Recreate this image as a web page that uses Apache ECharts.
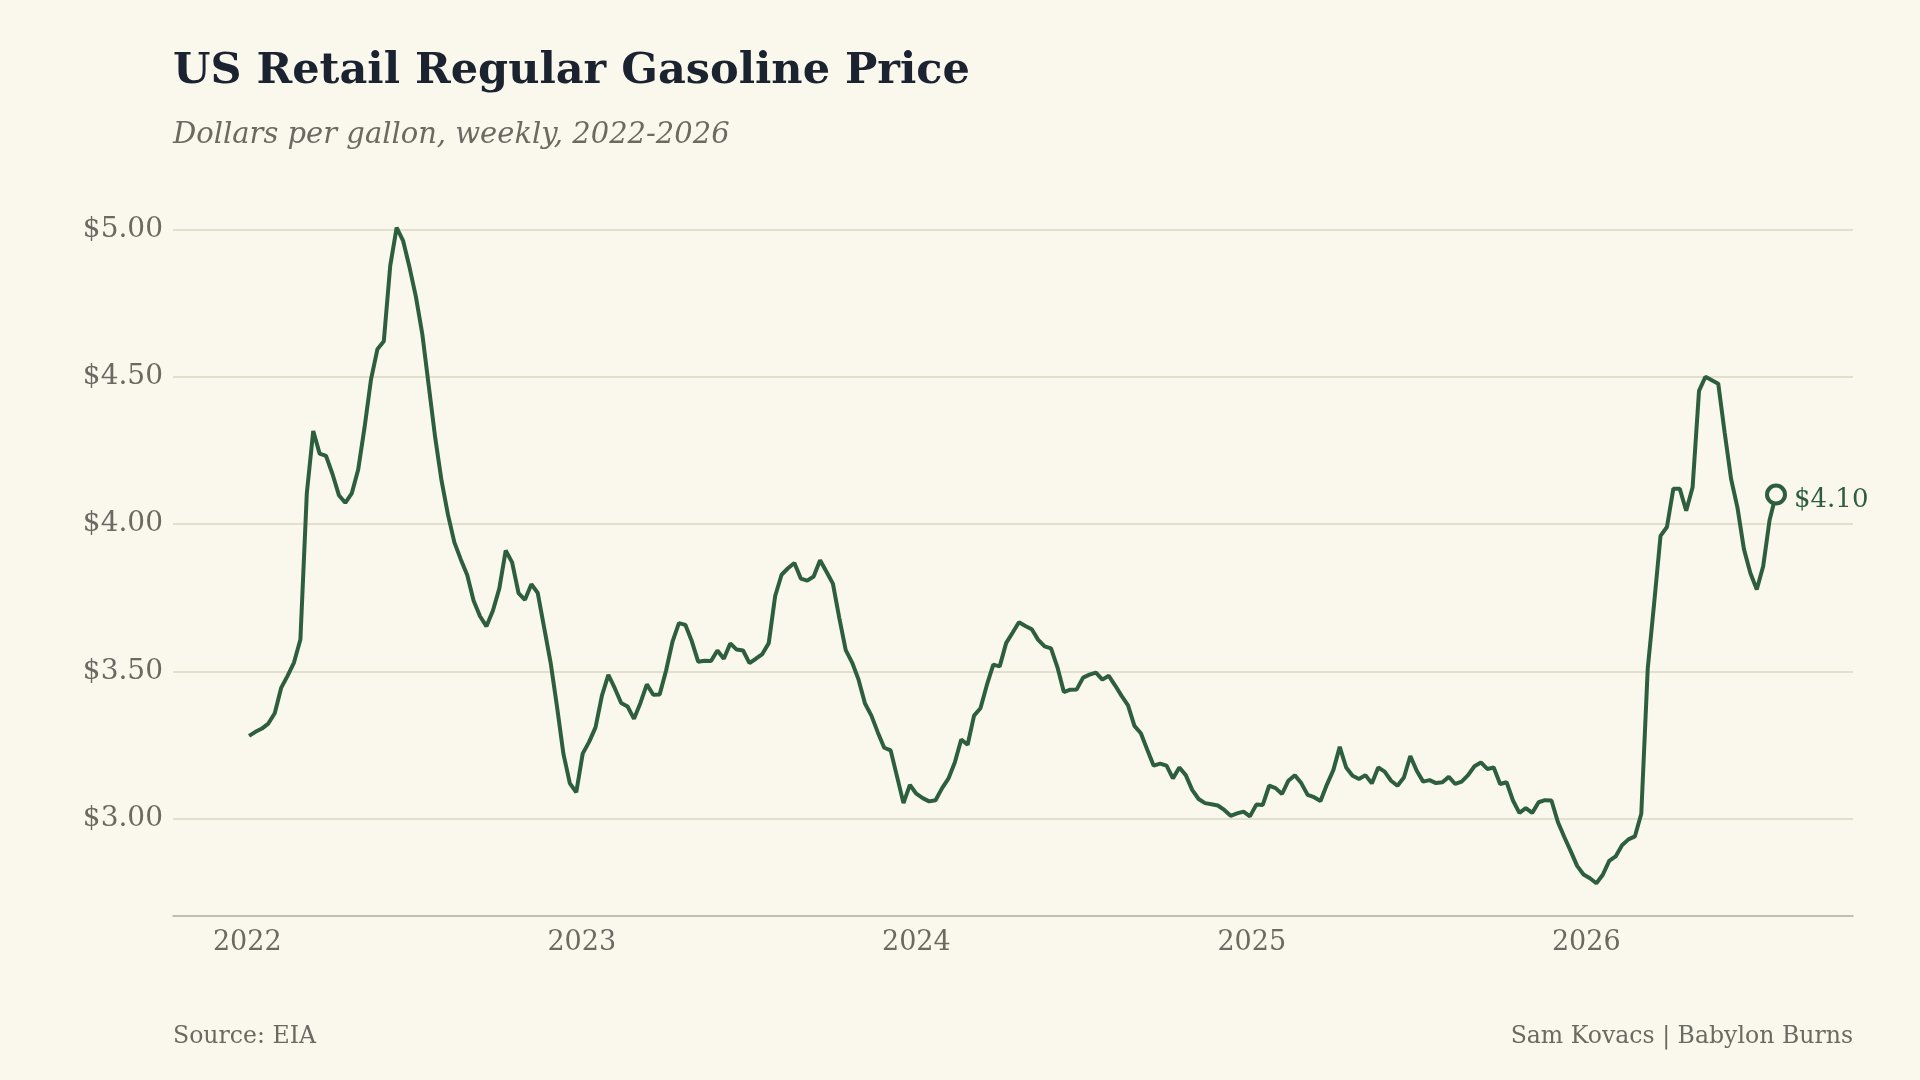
<!DOCTYPE html>
<html>
<head>
<meta charset="utf-8">
<title>US Retail Regular Gasoline Price</title>
<script src="https://cdn.jsdelivr.net/npm/echarts@6/dist/echarts.min.js"></script>
<style>
    html, body { margin: 0; padding: 0; background: #faf8ed; }
    #chart { width: 1920px; height: 1080px; }
</style>
</head>
<body>
<div id="chart"></div>
<script>
// weekly readings, first one is Monday 3 Jan 2022, one value per week after that
var firstWeek = Date.UTC(2022, 0, 3);

var prices2022 = [3.281, 3.295, 3.306, 3.323, 3.358, 3.444, 3.485, 3.530, 3.608, 4.104,
    4.316, 4.239, 4.231, 4.170, 4.098, 4.072, 4.104, 4.184, 4.328, 4.490,
    4.593, 4.620, 4.876, 5.006, 4.962, 4.872, 4.772, 4.645, 4.470, 4.295,
    4.147, 4.032, 3.938, 3.880, 3.827, 3.740, 3.687, 3.653, 3.706, 3.781,
    3.910, 3.870, 3.766, 3.743, 3.796, 3.766, 3.648, 3.530, 3.380, 3.220,
    3.120, 3.090];
var prices2023 = [3.221, 3.261, 3.310, 3.418, 3.488, 3.443, 3.393, 3.381, 3.339, 3.393,
    3.456, 3.421, 3.422, 3.503, 3.601, 3.664, 3.658, 3.603, 3.533, 3.536,
    3.535, 3.571, 3.543, 3.595, 3.574, 3.571, 3.528, 3.543, 3.559, 3.596,
    3.756, 3.828, 3.850, 3.868, 3.815, 3.808, 3.822, 3.877, 3.838, 3.798,
    3.681, 3.572, 3.530, 3.472, 3.391, 3.350, 3.293, 3.241, 3.232, 3.143,
    3.053, 3.115];
var prices2024 = [3.085, 3.070, 3.059, 3.063, 3.103, 3.136, 3.191, 3.269, 3.251, 3.350,
    3.375, 3.454, 3.523, 3.517, 3.596, 3.631, 3.667, 3.654, 3.643, 3.607,
    3.585, 3.578, 3.514, 3.430, 3.438, 3.439, 3.479, 3.489, 3.496, 3.472,
    3.485, 3.452, 3.417, 3.385, 3.315, 3.290, 3.234, 3.180, 3.187, 3.180,
    3.137, 3.174, 3.148, 3.098, 3.067, 3.053, 3.049, 3.045, 3.030, 3.010,
    3.018, 3.024, 3.008];
var prices2025 = [3.048, 3.047, 3.112, 3.104, 3.084, 3.129, 3.148, 3.121, 3.081, 3.073,
    3.060, 3.116, 3.165, 3.244, 3.174, 3.146, 3.135, 3.148, 3.120, 3.174,
    3.160, 3.129, 3.112, 3.140, 3.213, 3.163, 3.126, 3.131, 3.121, 3.124,
    3.142, 3.118, 3.126, 3.148, 3.178, 3.191, 3.169, 3.174, 3.118, 3.124,
    3.062, 3.020, 3.036, 3.020, 3.056, 3.063, 3.062, 2.989, 2.938, 2.890,
    2.840, 2.811];
var prices2026 = [2.798, 2.781, 2.810, 2.857, 2.872, 2.910, 2.930, 2.940, 3.017, 3.508,
    3.730, 3.960, 3.990, 4.120, 4.120, 4.045, 4.125, 4.452, 4.500, 4.488,
    4.476, 4.310, 4.153, 4.055, 3.915, 3.834, 3.778, 3.857, 4.014, 4.100];

var priceTicks = [3.0, 3.5, 4.0, 4.5, 5.0];

var titleText = 'US Retail Regular Gasoline Price';
var subtitleText = 'Dollars per gallon, weekly, 2022-2026';
var sourceText = 'Source: EIA';
var creditText = 'Sam Kovacs | Babylon Burns';

var green = '#2d5e3e';
var grey = '#6b6a62';
var bg = '#faf8ed';
var serif = '"DejaVu Serif", serif';

var allPrices = prices2022.concat(prices2023, prices2024, prices2025, prices2026);
var weekMs = 7 * 24 * 3600 * 1000;
var lineData = allPrices.map(function (p, i) {
    return [firstWeek + i * weekMs, p];
});
var lastPoint = lineData[lineData.length - 1];

var myChart = echarts.init(document.getElementById('chart'), null, { renderer: 'canvas' });
myChart.setOption({
    backgroundColor: bg,
    animation: false,
    title: [
        {
            text: titleText, left: 173, top: 50, padding: 0,
            textStyle: { fontFamily: serif, fontSize: 43, fontWeight: 'bold', color: '#1b2330' }
        },
        {
            text: subtitleText, left: 173, top: 121, padding: 0,
            textStyle: { fontFamily: serif, fontSize: 29, fontStyle: 'italic', fontWeight: 'normal', color: grey }
        },
        {
            text: sourceText, left: 173, top: 1025, padding: 0,
            textStyle: { fontFamily: serif, fontSize: 23.6, fontWeight: 'normal', color: grey }
        },
        {
            text: creditText, right: 67, top: 1025, padding: 0,
            textStyle: { fontFamily: serif, fontSize: 23.6, fontWeight: 'normal', color: grey }
        }
    ],
    grid: { left: 173, right: 67, top: 194, bottom: 164, containLabel: false },
    xAxis: {
        type: 'time',
        min: Date.UTC(2021, 9, 12),
        max: Date.UTC(2026, 9, 19),
        minInterval: 365 * 24 * 3600 * 1000,
        maxInterval: 366 * 24 * 3600 * 1000,
        axisLine: { show: true, lineStyle: { color: '#adaba0', width: 1.5 } },
        axisTick: { show: false },
        splitLine: { show: false },
        axisLabel: {
            formatter: '{yyyy}',
            showMinLabel: false,
            showMaxLabel: false,
            margin: 13,
            fontFamily: serif,
            fontSize: 27,
            color: grey
        }
    },
    yAxis: {
        type: 'value',
        min: 2.67,
        max: 5.12,
        axisLine: { show: false },
        axisTick: { show: false, customValues: priceTicks },
        splitLine: { show: true, lineStyle: { color: '#e2dfcd', width: 2 } },
        axisLabel: {
            customValues: priceTicks,
            margin: 10,
            fontFamily: serif,
            fontSize: 28,
            color: grey,
            formatter: function (v) { return '$' + v.toFixed(2); }
        }
    },
    series: [
        {
            type: 'line',
            data: lineData,
            showSymbol: false,
            lineStyle: { color: green, width: 4 },
            z: 2
        },
        {
            type: 'scatter',
            data: [lastPoint],
            symbol: 'circle',
            symbolSize: 18,
            itemStyle: { color: bg, borderColor: green, borderWidth: 4, opacity: 1 },
            label: {
                show: true,
                position: 'right',
                distance: 7,
                offset: [0, 6],
                fontFamily: serif,
                fontSize: 26,
                color: green,
                formatter: function (p) { return '$' + p.value[1].toFixed(2); }
            },
            z: 3
        }
    ]
});
</script>
</body>
</html>
